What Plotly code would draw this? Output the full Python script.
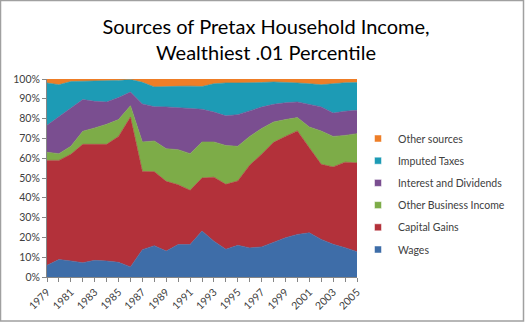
import plotly.graph_objects as go

years = list(range(1979, 2006))

wages = [5.9, 8.8, 8.1, 7.2, 8.4, 8.1, 7.4, 5.1, 13.8, 15.8, 13.1, 16.4, 16.4, 23.2,
         18.1, 14.0, 16.0, 14.7, 15.2, 17.5, 19.8, 21.5, 22.3, 19.0, 16.5, 14.8, 12.8]
capital_gains = [53.0, 50.1, 53.9, 59.8, 58.6, 58.9, 63.6, 75.7, 39.5, 37.4, 35.2, 30.2, 27.4, 26.8,
                 32.3, 32.8, 32.5, 41.8, 46.8, 50.5, 51.2, 52.3, 43.0, 37.9, 39.1, 43.2, 44.8]
other_business = [4.1, 3.4, 4.0, 6.6, 8.3, 10.1, 8.5, 5.7, 14.9, 15.5, 16.5, 17.7, 18.5, 18.2,
                  17.8, 19.6, 17.5, 14.5, 13.0, 10.3, 8.5, 6.7, 10.5, 16.8, 15.4, 13.5, 14.8]
interest_div = [13.6, 18.5, 19.0, 16.0, 13.4, 11.3, 11.1, 6.9, 19.2, 17.3, 21.1, 21.2, 23.1, 16.5,
                15.1, 15.0, 16.0, 13.0, 10.8, 8.9, 8.5, 7.9, 11.2, 12.2, 11.8, 12.2, 11.8]
imputed_taxes = [21.4, 16.3, 13.7, 9.2, 10.3, 10.8, 8.7, 6.4, 10.9, 10.0, 10.4, 10.8, 11.0, 11.5,
                 14.3, 16.6, 16.0, 14.0, 12.4, 11.3, 10.4, 9.6, 10.6, 11.2, 14.8, 14.4, 14.0]
other_sources = [2.0, 2.9, 1.3, 1.2, 1.0, 0.8, 0.7, 0.2, 1.7, 4.0, 3.7, 3.7, 3.6, 3.8,
                 2.4, 2.0, 2.0, 2.0, 1.8, 1.5, 1.6, 2.0, 2.4, 2.9, 2.4, 1.9, 1.8]

series = [
    ("Wages", wages, "#3E6DA8"),
    ("Capital Gains", capital_gains, "#B3313A"),
    ("Other Business Income", other_business, "#7DAC48"),
    ("Interest and Dividends", interest_div, "#7A4E90"),
    ("Imputed Taxes", imputed_taxes, "#1D9BB5"),
    ("Other sources", other_sources, "#EE7E27"),
]

fig = go.Figure()
for name, vals, color in series:
    fig.add_trace(go.Scatter(
        x=years, y=vals, name=name, mode="lines", legendgroup=name,
        stackgroup="one", line=dict(width=0.6, color=color),
        fillcolor=color, hoverinfo="x+y+name", showlegend=False,
    ))
# legend entries with small square keys, like the original (top of stack listed first)
n = len(series)
for i, (name, vals, color) in enumerate(series):
    fig.add_trace(go.Scatter(
        x=[None], y=[None], name=name, mode="markers", legendgroup=name,
        legendrank=(n - i) * 10,
        marker=dict(symbol="square", size=7, color=color, line=dict(width=0.5, color="#ffffff")),
        showlegend=True, hoverinfo="skip",
    ))

W, H = 525, 322
ml, mr, mt, mb = 47, 168, 79, 45
pw, ph = W - ml - mr, H - mt - mb

def px_x(p):
    return (p - ml) / pw

def px_y(p):
    return (H - mb - p) / ph

fig.update_layout(
    width=W, height=H,
    margin=dict(l=ml, r=mr, t=mt, b=mb, autoexpand=False),
    paper_bgcolor="white", plot_bgcolor="white",
    font=dict(family="Lato, Open Sans, sans-serif", color="#404040", size=10),
    title=dict(
        text="Sources of Pretax Household Income,<br>Wealthiest .01 Percentile",
        x=px_x(266), xref="paper", xanchor="center",
        y=1 - 34 / H, yanchor="middle",
        font=dict(family="Lato, sans-serif", size=20, color="#000000"),
    ),
    showlegend=True,
    legend=dict(
        x=px_x(358), xanchor="left", y=px_y(124), yanchor="top",
        traceorder="grouped", tracegroupgap=3.2, font=dict(size=10.5, color="#404040"),
        itemwidth=30, bgcolor="rgba(0,0,0,0)",
    ),
    xaxis=dict(
        range=[1979, 2005], tickvals=years[::2], ticktext=[str(y) for y in years[::2]],
        tickangle=-45, ticks="outside", ticklen=4, tickcolor="#868686",
        showline=True, linecolor="#868686", showgrid=False, zeroline=False,
        minor=dict(dtick=1, tick0=1979, ticks="outside", ticklen=4, tickcolor="#868686", showgrid=False),
        tickfont=dict(size=10.5, color="#404040"),
    ),
    yaxis=dict(
        range=[0, 100], dtick=10, ticksuffix="%", ticks="outside", ticklen=4,
        tickcolor="#868686", showline=True, linecolor="#868686",
        showgrid=False, zeroline=False, tickfont=dict(size=10.5, color="#404040"),
    ),
    shapes=[dict(
        type="rect", xref="paper", yref="paper",
        x0=px_x(0.5), x1=px_x(523.5), y0=px_y(321), y1=px_y(0.5),
        line=dict(color="#A0A0A0", width=1.5), fillcolor="rgba(0,0,0,0)", layer="above",
    )],
)

fig.write_html("out.html")
